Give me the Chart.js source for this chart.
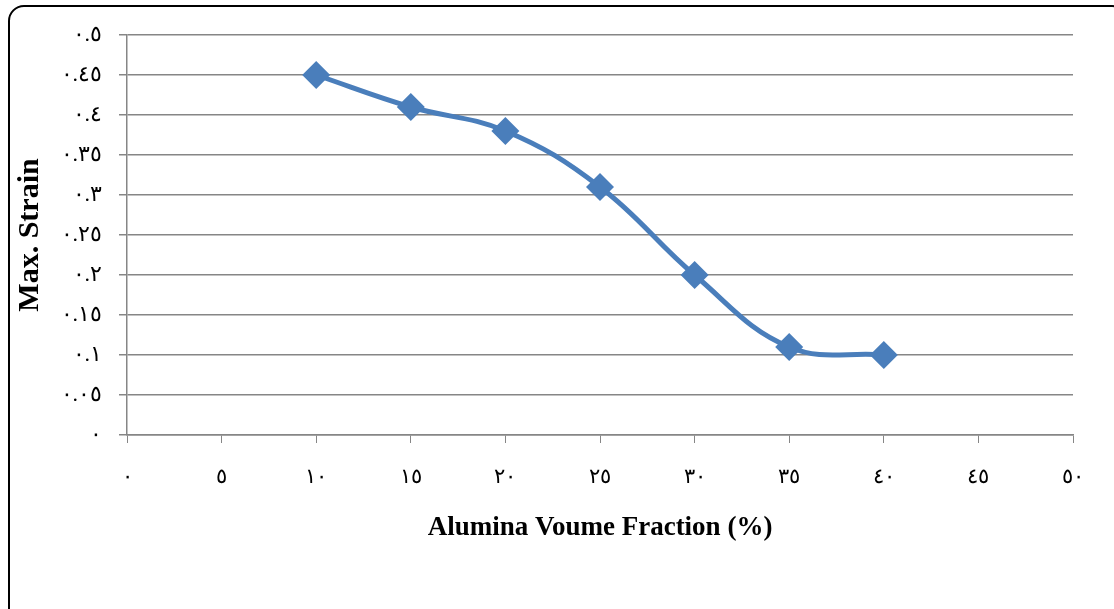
<!DOCTYPE html>
<html>
<head>
<meta charset="utf-8">
<script src="https://cdn.jsdelivr.net/npm/chart.js@4/dist/chart.umd.min.js"></script>
<style>
  body { margin: 0; background: #fff; overflow: hidden; }
  #wrap { position: relative; width: 1114px; height: 609px; }
  #frame {
    position: absolute; left: 8px; top: 5px; width: 1120px; height: 620px;
    border: 2.5px solid #000; border-radius: 16px; box-sizing: border-box;
    pointer-events: none;
  }
</style>
</head>
<body>
<div id="wrap">
  <canvas id="myChart" width="1114" height="609"></canvas>
  <div id="frame"></div>
</div>
<script>
// Alumina volume fraction (%) vs max strain
var fraction = [10, 15, 20, 25, 30, 35, 40];
var maxStrain = [0.45, 0.41, 0.38, 0.31, 0.20, 0.11, 0.10];

var xTicks = [0, 5, 10, 15, 20, 25, 30, 35, 40, 45, 50];
var yTicks = [0, 0.05, 0.1, 0.15, 0.2, 0.25, 0.3, 0.35, 0.4, 0.45, 0.5];

var arabicDigits = ["٠", "١", "٢", "٣", "٤", "٥", "٦", "٧", "٨", "٩"];
function toArabic(v) {
  var s = String(Math.round(v * 100) / 100);
  return s.replace(/[0-9]/g, function (d) { return arabicDigits[d]; });
}

var serif = "'Times New Roman', 'Liberation Serif', serif";
var gray = "#868686";
var blue = "#4a7ebb";

var points = [];
for (let i = 0; i < fraction.length; i++) {
  points.push({ x: fraction[i], y: maxStrain[i] });
}

var ctx = document.getElementById("myChart");
var myChart = new Chart(ctx, {
  type: "scatter",
  data: {
    datasets: [
      {
        data: points,
        showLine: true,
        tension: 0.4,
        borderColor: blue,
        borderWidth: 5,
        backgroundColor: blue,
        pointStyle: "rectRot",
        pointRadius: 14,
        pointBorderWidth: 0,
      },
    ],
  },
  options: {
    responsive: false,
    animation: false,
    layout: { padding: { left: 0, right: 41, top: 35, bottom: 0 } },
    plugins: { legend: { display: false }, tooltip: { enabled: false } },
    scales: {
      x: {
        type: "linear",
        min: 0,
        max: 50,
        afterBuildTicks: (scale) => {
          scale.ticks = xTicks.map((v) => ({ value: v }));
        },
        afterFit: (scale) => {
          scale.height = 174;
        },
        grid: {
          drawOnChartArea: false,
          drawTicks: true,
          tickLength: 8,
          color: gray,
        },
        border: { color: gray, width: 1.5 },
        ticks: {
          color: "#000",
          padding: 22,
          font: { family: serif, size: 21 },
          callback: (v) => toArabic(v),
        },
        title: {
          display: true,
          text: "Alumina Voume Fraction (%)",
          color: "#000",
          font: { family: serif, size: 27, weight: "bold", lineHeight: 1.2 },
          padding: { top: 0, bottom: 65 },
        },
      },
      y: {
        type: "linear",
        min: 0,
        max: 0.5,
        afterBuildTicks: (scale) => {
          scale.ticks = yTicks.map((v) => ({ value: v }));
        },
        afterFit: (scale) => {
          scale.width = 127;
        },
        grid: {
          drawTicks: true,
          tickLength: 8,
          color: gray,
          lineWidth: 1.5,
        },
        border: { color: gray, width: 1.5 },
        ticks: {
          color: "#000",
          padding: 17,
          font: { family: serif, size: 22 },
          callback: (v) => toArabic(v),
        },
        title: {
          display: true,
          text: "Max. Strain",
          color: "#000",
          font: { family: serif, size: 30, weight: "bold", lineHeight: 1.2 },
          padding: { top: 12, bottom: 0 },
        },
      },
    },
  },
});
</script>
</body>
</html>
